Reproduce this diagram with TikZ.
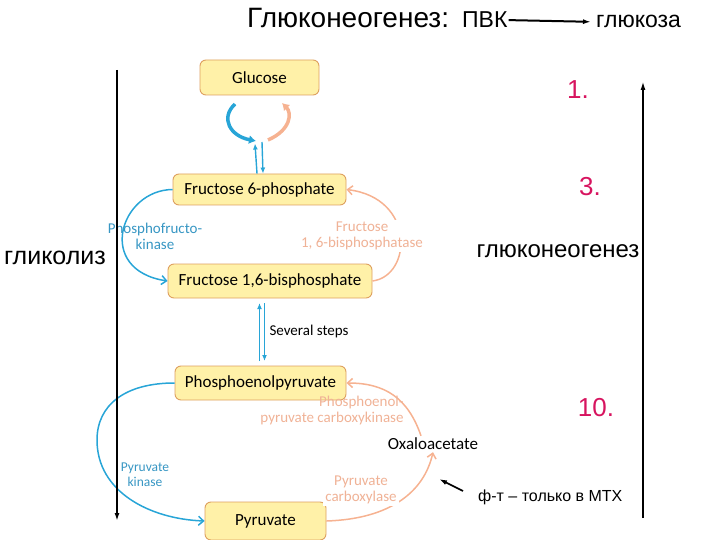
\documentclass[tikz,border=0pt]{standalone}
\usepackage{fontspec}
\setmainfont{Liberation Sans}
\newfontfamily\biofont{Carlito}
\usetikzlibrary{arrows.meta,positioning}
\definecolor{bluearr}{RGB}{40,165,215}
\definecolor{bluetext}{RGB}{55,150,195}
\definecolor{salmonarr}{RGB}{246,178,145}
\definecolor{salmontext}{RGB}{240,178,150}
\definecolor{boxfill}{RGB}{255,241,168}
\definecolor{boxline}{RGB}{222,160,95}
\definecolor{numred}{RGB}{215,20,95}

\begin{document}
\begin{tikzpicture}[x=1pt, y=-1pt,
      box/.style={draw=boxline, rounded corners=6pt, fill=boxfill, line width=0.9pt,
                  minimum height=34pt, font=\biofont\fontsize{17}{19}\selectfont},
      bluelbl/.style={text=bluetext, align=center, inner sep=2pt,
                      font=\biofont\fontsize{15}{16}\selectfont},
      salmonlbl/.style={text=salmontext, align=center, inner sep=2pt,
                        font=\biofont\fontsize{15}{16}\selectfont},
      rutext/.style={inner sep=0pt, anchor=base west},
      numlbl/.style={text=numred, font=\fontsize{26}{28}\selectfont},
      bluecurve/.style={bluearr, line width=1.5pt, -{Straight Barb[length=5pt,width=9pt]}},
      salmoncurve/.style={salmonarr, line width=1.5pt, -{Straight Barb[length=5pt,width=9pt]}},
      gluarc/.style={line width=3.5pt, -{Latex[length=7pt,width=9pt]}},
      stepline/.style={bluearr, line width=1.4pt, -{Latex[length=6pt,width=5pt]}},
      blackarr/.style={black, -{Latex[length=8pt,width=5pt]}}
    ]
    \useasboundingbox (0,0) rectangle (720,540);

    \node[rutext, font=\fontsize{28}{30}\selectfont] (title) at (247,28) {Глюконеогенез:};
    \node[rutext, font=\fontsize{23}{25}\selectfont] (pvk) at (462,28) {ПВК};
    \node[rutext, font=\fontsize{23}{25}\selectfont] (glk) at (596,28) {глюкоза};
    \draw[blackarr, line width=2pt, shorten >=5pt, shorten <=1pt] (pvk.east) -- (glk.west);

    \node[box, minimum width=119pt, minimum height=35pt] (glucose) at (259.5,77.5) {Glucose};
    \node[box, minimum width=173pt, minimum height=31pt] (f6p) at (259.5,189.5) {Fructose 6-phosphate};
    \node[box, minimum width=204pt] (fbp) at (270,281) {Fructose 1,6-bisphosphate};
    \node[box, minimum width=171pt] (pep) at (260.5,383) {Phosphoenolpyruvate};
    \node[box, minimum width=121pt, minimum height=38pt] (pyr) at (265.5,521) {Pyruvate};
    \node[inner sep=2pt, font=\biofont\fontsize{17}{19}\selectfont] (oxa) at (433,444) {Oxaloacetate};

    \coordinate (gbtop) at (235,104);
    \coordinate (gbend) at (256,141);
    \coordinate (gsbot) at (268,140);
    \coordinate (gstop) at (282,103);
    \draw[gluarc, bluearr] (gbtop) .. controls (220,118) and (230,136) .. (gbend);
    \draw[gluarc, salmonarr] (gsbot) .. controls (291,130) and (292,113) .. (gstop);
    \draw[stepline] ([xshift=-2.5pt]f6p.north) -- ++(-2,-30);
    \draw[stepline] (262,142) -- ([xshift=3.5pt]f6p.north);

    \draw[bluecurve] (f6p.west) .. controls (120,190) and (95,270) .. (fbp.west);
    \draw[salmoncurve] (fbp.east) .. controls (412,276) and (416,198) .. (f6p.east);
    \node[bluelbl] (pfk) at (155,236) {Phosphofructo-\\kinase};
    \node[salmonlbl, fill=white] (fbpase) at (362,236) {Fructose\\1, 6-bisphosphatase};

    \coordinate (sstop) at (262,303);
    \coordinate (ssbot) at (262,361);
    \draw[stepline] ([xshift=-2.5pt]ssbot) -- ([xshift=-2.5pt]sstop);
    \draw[stepline] ([xshift=2.5pt]sstop) -- ([xshift=2.5pt]ssbot);
    \node[font=\biofont\fontsize{15}{16}\selectfont, anchor=west] (several) at (266,331) {Several steps};

    \draw[bluecurve] (pep.west) .. controls (125,383) and (97,405) .. (97,440)
          .. controls (97,492) and (150,519) .. (pyr.west);
    \node[bluelbl, font=\biofont\fontsize{13.5}{15}\selectfont] (pk) at (145,475) {Pyruvate\\kinase};

    \draw[salmoncurve] (pyr.east) .. controls (390,519) and (424,492) .. (oxa.south);
    \draw[salmoncurve] ([xshift=-12pt]oxa.north) .. controls (408,398) and (385,383) .. (pep.east);
    \node[salmonlbl, align=right] (pepck) at (332,410) {Phosphoenol-\\pyruvate carboxykinase};
    \node[salmonlbl, fill=white] (pc) at (361,490) {Pyruvate\\carboxylase};

    \coordinate (glytop) at (117,70);
    \coordinate (glybot) at (117,521);
    \draw[blackarr, line width=1.6pt] (glytop) -- (glybot);
    \node[font=\fontsize{25}{27}\selectfont] (glycolysis) at (55,258) {гликолиз};

    \coordinate (gngbot) at (643,518);
    \coordinate (gngtop) at (643,82);
    \draw[blackarr, line width=1.1pt] (gngbot) -- (gngtop);
    \node[font=\fontsize{24}{26}\selectfont] (gng) at (558,251) {глюконеогенез};

    \node[numlbl] (one) at (578,90) {1.};
    \node[numlbl] (three) at (590,187) {3.};
    \node[numlbl] (ten) at (596,408) {10.};

    \node[font=\fontsize{16}{18}\selectfont, anchor=west, inner sep=0pt] (note) at (478,497) {ф-т – только в МТХ};
    \coordinate (notetail) at (463,491);
    \coordinate (oxatip) at (439,479);
    \draw[blackarr, line width=1.6pt] (notetail) -- (oxatip);
  \end{tikzpicture}
\end{document}
